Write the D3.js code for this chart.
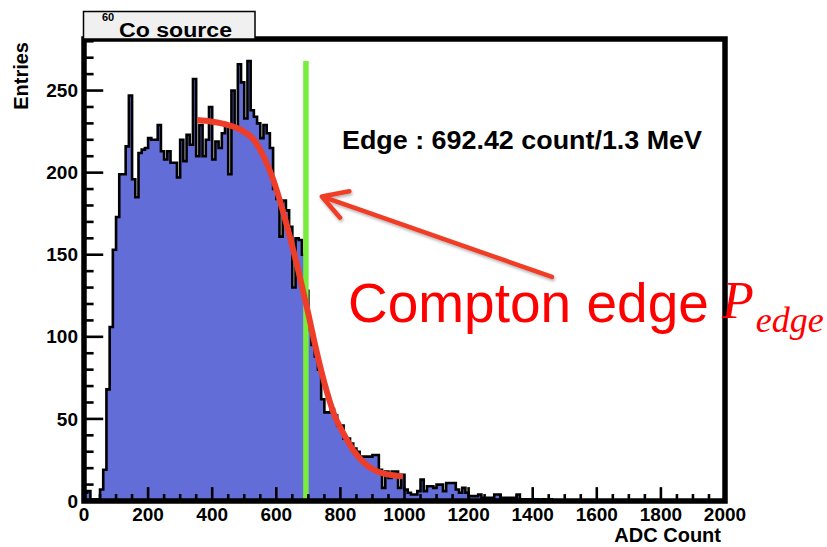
<!DOCTYPE html>
<html>
<head>
<meta charset="utf-8">
<script src="https://cdn.jsdelivr.net/npm/d3@7"></script>
<style>
  html, body { margin: 0; padding: 0; background: #fff; }
  svg { display: block; }
</style>
</head>
<body>
<svg id="chart" width="827" height="547"></svg>
<script>
// ADC spectrum of the 60Co source: 200 bins of 10 counts from 0 to 2000
const binLow = 0;
const binWidth = 10;
const counts = [
  5, 6, 1, 1, 1, 7, 19, 68, 106, 153,
  173, 199, 199, 216, 247, 196, 185, 212, 214, 215,
  221, 220, 220, 229, 213, 208, 213, 206, 206, 197,
  220, 207, 223, 217, 257, 210, 229, 210, 220, 240,
  208, 219, 215, 224, 229, 199, 250, 227, 266, 255,
  233, 268, 238, 234, 230, 221, 229, 224, 215, 190,
  184, 161, 183, 177, 167, 130, 160, 159, 150, 128,
  104, 95, 88, 80, 62, 54, 54, 56, 52, 46,
  46, 38, 38, 35, 32, 30, 27, 27, 27, 27,
  28, 28, 19, 8, 18, 14, 18, 18, 8, 16,
  7, 5, 4, 4, 6, 13, 6, 9, 9, 8,
  10, 10, 6, 11, 11, 11, 7, 5, 8, 5,
  3, 3, 3, 4, 2, 2, 2, 2, 4, 4,
  2, 2, 2, 2, 2, 4, 1, 1, 1, 1,
  1, 1, 0, 1, 0, 1, 0, 0, 0, 0,
  0, 0, 0, 0, 0, 0, 0, 0, 0, 0,
  0, 0, 0, 0, 0, 0, 0, 0, 0, 0,
  0, 0, 0, 0, 0, 0, 0, 0, 0, 0,
  0, 0, 0, 0, 0, 0, 0, 0, 0, 0,
  0, 0, 0, 0, 0, 0, 0, 0, 0, 0
];

// Fitted Compton-edge curve (ADC count, entries)
const fitAdc     = [353, 400, 450, 490, 530, 560, 590, 620, 650, 680, 700, 720, 750, 780, 810, 840, 870, 900, 940, 995];
const fitEntries = [232, 231, 229, 226, 220, 210, 196, 177, 155, 131, 114,  96,  72,  53,  41,  31,  24, 19.5, 16.5, 15];

// Edge position from the fit
const edgeAdc = 692.42;
const edgeEnergy = "1.3 MeV";

// Callout arrow, in data units: from the label toward the edge
const arrowFrom = [1460, 136.5];
const arrowTo   = [742, 185.5];

// Axes
const xDomain = [0, 2000];
const yMax = 281.4;
const xMajorTicks = [0, 200, 400, 600, 800, 1000, 1200, 1400, 1600, 1800, 2000];
const yMajorTicks = [0, 50, 100, 150, 200, 250];
const xMinorStep = 50;
const yMinorStep = 10;

const titleMass = "60";
const titleText = "Co source";
const xTitle = "ADC Count";
const yTitle = "Entries";

const svg = d3.select("#chart");
const frameL = 84, frameR = 725, frameT = 39, frameB = 501;

const x = d3.scaleLinear().domain(xDomain).range([frameL, frameR]);
const y = d3.scaleLinear().domain([0, yMax]).range([frameB, frameT]);

svg.append("rect").attr("width", 827).attr("height", 547).attr("fill", "#fff");

const defs = svg.append("defs");
defs.append("clipPath").attr("id", "plotClip")
  .append("rect").attr("x", frameL).attr("y", frameT)
  .attr("width", frameR - frameL).attr("height", frameB - frameT);
const shadow = defs.append("filter").attr("id", "soft")
  .attr("x", "-10%").attr("y", "-30%").attr("width", "120%").attr("height", "160%");
shadow.append("feDropShadow").attr("dx", 1).attr("dy", 2)
  .attr("stdDeviation", 1.6).attr("flood-color", "#000").attr("flood-opacity", 0.3);

// Histogram as steps: each bin's left edge carries its count
const steps = counts.map((c, i) => [binLow + i * binWidth, c]);
steps.push([binLow + counts.length * binWidth, counts[counts.length - 1]]);

const plot = svg.append("g").attr("clip-path", "url(#plotClip)");

plot.append("path")
  .datum(steps)
  .attr("fill", "#626dd8")
  .attr("d", d3.area().curve(d3.curveStepAfter)
    .x(d => x(d[0])).y0(y(0)).y1(d => y(d[1])));

plot.append("path")
  .datum([[binLow, 0], ...steps])
  .attr("fill", "none")
  .attr("stroke", "#000")
  .attr("stroke-width", 2.6)
  .attr("d", d3.line().curve(d3.curveStepAfter)
    .x(d => x(d[0])).y(d => y(d[1])));

// Edge marker, up to the tallest bin
plot.append("line")
  .attr("x1", x(edgeAdc)).attr("x2", x(edgeAdc))
  .attr("y1", y(0)).attr("y2", y(d3.max(counts)))
  .attr("stroke", "#78ee3c").attr("stroke-width", 5.5);

// Fit curve
const fitPts = fitAdc.map((a, i) => [a, fitEntries[i]]);
plot.append("path")
  .datum(fitPts)
  .attr("fill", "none")
  .attr("stroke", "#ee3e2a")
  .attr("stroke-width", 6)
  .attr("stroke-linecap", "butt")
  .attr("d", d3.line().curve(d3.curveMonotoneX)
    .x(d => x(d[0])).y(d => y(d[1])));

// Frame and ticks (ticks point into the frame)
const axes = svg.append("g").attr("stroke", "#000");
const xTickLen = 0.03 * (frameB - frameT);
const yTickLen = 0.03 * (frameR - frameL);
d3.range(xDomain[0], xDomain[1] + 1, xMinorStep).forEach(v => {
  const major = xMajorTicks.includes(v);
  axes.append("line")
    .attr("x1", x(v)).attr("x2", x(v))
    .attr("y1", frameB).attr("y2", frameB - (major ? xTickLen : xTickLen / 2))
    .attr("stroke-width", 2.6);
});
d3.range(0, yMax, yMinorStep).forEach(v => {
  const major = yMajorTicks.includes(v);
  axes.append("line")
    .attr("x1", frameL).attr("x2", frameL + (major ? yTickLen : yTickLen / 2))
    .attr("y1", y(v)).attr("y2", y(v))
    .attr("stroke-width", 2.6);
});
axes.append("rect")
  .attr("x", frameL).attr("y", frameT)
  .attr("width", frameR - frameL).attr("height", frameB - frameT)
  .attr("fill", "none").attr("stroke-width", 5.5);

const font = "'Liberation Sans', Arial, Helvetica, sans-serif";

// Tick labels
svg.append("g").selectAll("text").data(xMajorTicks).join("text")
  .attr("x", d => x(d)).attr("y", 521)
  .attr("text-anchor", "middle")
  .attr("font-family", font).attr("font-weight", "bold").attr("font-size", 19)
  .text(d => d);
svg.append("g").selectAll("text").data(yMajorTicks).join("text")
  .attr("x", 78).attr("y", d => y(d))
  .attr("dy", "0.35em")
  .attr("text-anchor", "end")
  .attr("font-family", font).attr("font-weight", "bold").attr("font-size", 19)
  .text(d => d);

// Axis titles
svg.append("text")
  .attr("x", 721).attr("y", 542)
  .attr("text-anchor", "end")
  .attr("font-family", font).attr("font-weight", "bold").attr("font-size", 20)
  .text(xTitle);
svg.append("text")
  .attr("transform", "translate(28,42) rotate(-90)")
  .attr("text-anchor", "end")
  .attr("font-family", font).attr("font-weight", "bold").attr("font-size", 20)
  .text(yTitle);

// Histogram title box
svg.append("rect")
  .attr("x", 83.5).attr("y", 11.5).attr("width", 171.5).attr("height", 27.5)
  .attr("fill", "#f0f0f0").attr("stroke", "#000").attr("stroke-width", 1.5);
svg.append("text")
  .attr("x", 102).attr("y", 21)
  .attr("font-family", font).attr("font-weight", "bold").attr("font-size", 11)
  .text(titleMass);
svg.append("text")
  .attr("x", 119).attr("y", 36.5)
  .attr("font-family", font).attr("font-weight", "bold").attr("font-size", 20)
  .attr("textLength", 113).attr("lengthAdjust", "spacingAndGlyphs")
  .text(titleText);

// Fit result
svg.append("text")
  .attr("x", 342).attr("y", 149)
  .attr("font-family", font).attr("font-weight", "bold").attr("font-size", 26)
  .attr("textLength", 360).attr("lengthAdjust", "spacingAndGlyphs")
  .text(`Edge : ${edgeAdc.toFixed(2)} count/${edgeEnergy}`);

// Callout arrow
const ax1 = x(arrowFrom[0]), ay1 = y(arrowFrom[1]);
const ax2 = x(arrowTo[0]), ay2 = y(arrowTo[1]);
const ang = Math.atan2(ay1 - ay2, ax1 - ax2);
const headLen = 28, headSpread = Math.PI / 6;
const arrow = svg.append("g")
  .attr("stroke", "#f03c28").attr("stroke-width", 4.5)
  .attr("stroke-linecap", "round").attr("fill", "none")
  .attr("filter", "url(#soft)");
arrow.append("path").attr("d",
  `M${ax1},${ay1}L${ax2},${ay2}` +
  `M${ax2 + headLen * Math.cos(ang - headSpread)},${ay2 + headLen * Math.sin(ang - headSpread)}` +
  `L${ax2},${ay2}` +
  `L${ax2 + headLen * Math.cos(ang + headSpread)},${ay2 + headLen * Math.sin(ang + headSpread)}`)
  .attr("stroke-linejoin", "round");

// Callout label
svg.append("text")
  .attr("x", 348).attr("y", 322)
  .attr("font-family", font).attr("font-size", 55)
  .attr("fill", "#ff0000")
  .text("Compton edge");
const sym = svg.append("text")
  .attr("x", 722).attr("y", 318)
  .attr("font-family", "'Liberation Serif', 'Times New Roman', serif")
  .attr("font-style", "italic").attr("font-size", 52)
  .attr("fill", "#ff0000");
sym.append("tspan").text("P");
sym.append("tspan").attr("dy", 14).attr("dx", 2).attr("font-size", 36).text("edge");
</script>
</body>
</html>
